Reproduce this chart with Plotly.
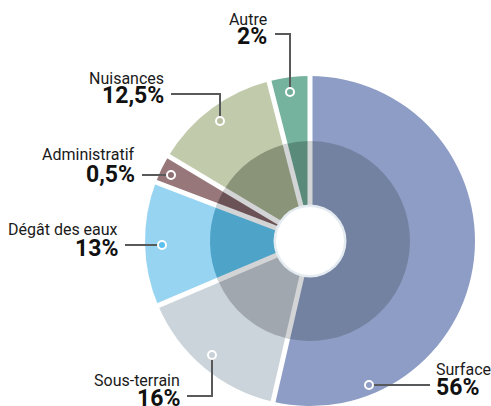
import math
import plotly.graph_objects as go

# ---- data ----
categories = ["Surface", "Sous-terrain", "Dégât des eaux", "Administratif", "Nuisances", "Autre"]
printed_pct = ["56%", "16%", "13%", "0,5%", "12,5%", "2%"]
# angular shares as drawn in the picture (degrees / 3.6)
slice_shares = [53.6, 15.0, 12.2, 2.8, 12.4, 4.0]

outer_colors = ["#8e9dc5", "#cbd4da", "#97d4f1", "#977779", "#c1cbac", "#76b39e"]
inner_colors = ["#7482a2", "#a0a7ae", "#4ea3c8", "#6a5256", "#8a9479", "#5a8b7a"]
marker_fill = ["#8e9dc5", "#c8d1d8", "#5cc0ee", "#8f7072", "#b7c1a2", "#70ae99"]

# ---- layout geometry (pixels) ----
W, H = 491, 406
CX, CY = 310, 241
R_OUT = 165
R_IN = 100
R_HOLE = 35


def px(x):
    return x / W


def py(y):
    return 1 - y / H


fig = go.Figure()

fig.add_trace(go.Pie(
    labels=categories, values=slice_shares, sort=False, direction="clockwise", rotation=0,
    marker=dict(colors=outer_colors, line=dict(width=0)),
    textinfo="none", hoverinfo="label", showlegend=False,
    domain=dict(x=[px(CX - R_OUT), px(CX + R_OUT)], y=[py(CY + R_OUT), py(CY - R_OUT)]),
))
fig.add_trace(go.Pie(
    labels=categories, values=slice_shares, sort=False, direction="clockwise", rotation=0,
    marker=dict(colors=inner_colors, line=dict(width=0)),
    textinfo="none", hoverinfo="label", showlegend=False,
    domain=dict(x=[px(CX - R_IN), px(CX + R_IN)], y=[py(CY + R_IN), py(CY - R_IN)]),
))

shapes = []
# gaps at slice boundaries computed from the data: gray in the shaded ring, white outside
total = sum(slice_shares)
cum = 0
for v in slice_shares:
    ang = cum / total * 2 * math.pi
    s, c = math.sin(ang), math.cos(ang)
    shapes.append(dict(type="line", xref="paper", yref="paper", layer="above",
                       x0=px(CX), y0=py(CY), x1=px(CX + R_IN * s), y1=py(CY - R_IN * c),
                       line=dict(color="#d3d4d5", width=5)))
    shapes.append(dict(type="line", xref="paper", yref="paper", layer="above",
                       x0=px(CX + R_IN * s), y0=py(CY - R_IN * c),
                       x1=px(CX + (R_OUT + 4) * s), y1=py(CY - (R_OUT + 4) * c),
                       line=dict(color="white", width=5)))
    cum += v

# white centre with soft rim
shapes.append(dict(type="circle", xref="paper", yref="paper", layer="above",
                   x0=px(CX - R_HOLE - 1.5), x1=px(CX + R_HOLE + 1.5),
                   y0=py(CY + R_HOLE + 1.5), y1=py(CY - R_HOLE - 1.5),
                   fillcolor="#e4ebf1", line=dict(width=0)))
shapes.append(dict(type="circle", xref="paper", yref="paper", layer="above",
                   x0=px(CX - R_HOLE + 1), x1=px(CX + R_HOLE - 1),
                   y0=py(CY + R_HOLE - 1), y1=py(CY - R_HOLE + 1),
                   fillcolor="white", line=dict(width=0)))

# label layout: text edge x, name centre y, pct centre y, leader polyline
label_text_x = [435, 181, 119, 136, 165, 268]
label_anchor = ["left", "right", "right", "right", "right", "right"]
label_name_y = [369, 380, 229, 154, 78, 19]
label_pct_y = [387, 398, 248, 174, 96, 37]
leaders = [
    [(369, 385), (430, 385)],
    [(187, 396), (212, 396), (212, 355)],
    [(125, 245), (162, 245)],
    [(142, 175), (171, 175)],
    [(171, 94), (220, 94), (220, 121)],
    [(275, 34), (290, 34), (290, 92)],
]

for i, pts in enumerate(leaders):
    path = "M " + " L ".join(f"{px(x)},{py(y)}" for x, y in pts)
    shapes.append(dict(type="path", xref="paper", yref="paper", layer="above", path=path,
                       line=dict(color="#58595b", width=2)))

for i, pts in enumerate(leaders):
    mx, my = pts[0] if i == 0 else pts[-1]
    r = 4
    shapes.append(dict(type="circle", xref="paper", yref="paper", layer="above",
                       x0=px(mx - r), x1=px(mx + r), y0=py(my + r), y1=py(my - r),
                       fillcolor=marker_fill[i], line=dict(color="white", width=2)))

annotations = []
for i, name in enumerate(categories):
    annotations.append(dict(text=name, x=px(label_text_x[i]), y=py(label_name_y[i]),
                            xref="paper", yref="paper", xanchor=label_anchor[i], yanchor="middle",
                            showarrow=False, borderpad=0,
                            font=dict(family="Roboto", size=16, color="#1a1a1a")))
    annotations.append(dict(text=f"<b>{printed_pct[i]}</b>", x=px(label_text_x[i]), y=py(label_pct_y[i]),
                            xref="paper", yref="paper", xanchor=label_anchor[i], yanchor="middle",
                            showarrow=False, borderpad=0,
                            font=dict(family="Roboto", size=23, color="#111111")))

fig.update_layout(
    width=W, height=H, margin=dict(l=0, r=0, t=0, b=0),
    paper_bgcolor="white", plot_bgcolor="white",
    shapes=shapes, annotations=annotations, showlegend=False,
)

fig.write_html("out.html", config={"displayModeBar": False},
               post_script="document.body.style.margin='0';")
